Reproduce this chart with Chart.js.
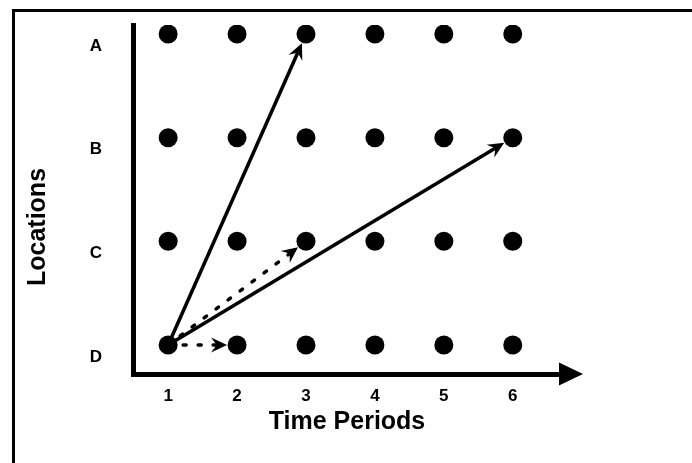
<!DOCTYPE html>
<html>
<head>
<meta charset="utf-8">
<script src="https://cdn.jsdelivr.net/npm/chart.js@4"></script>
<style>
  body { margin: 0; background: #fff; }
  #wrap { width: 692px; height: 463px; position: relative; }
</style>
</head>
<body>
<div id="wrap"><canvas id="paths"></canvas></div>
<script>
const times = [1, 2, 3, 4, 5, 6];
const locations = ['A', 'B', 'C', 'D'];
// moves: [period, location] -> [period, location]
const moveFrom = [[1, 'D'], [1, 'D'], [1, 'D'], [1, 'D']];
const moveTo = [[3, 'A'], [6, 'B'], [3, 'C'], [2, 'D']];
const moveDashed = [false, false, true, true];

const FONT = '"Liberation Sans", Arial, sans-serif';

// A on top, D at the bottom
function locValue(name) {
  return locations.length - 1 - locations.indexOf(name);
}

const dots = [];
times.forEach(t => locations.forEach(l => dots.push({ x: t, y: locValue(l) })));

function arrowHead(ctx, tx, ty, ang, len, half) {
  ctx.save();
  ctx.translate(tx, ty);
  ctx.rotate(ang);
  ctx.beginPath();
  ctx.moveTo(0, 0);
  ctx.lineTo(-len, -half);
  ctx.lineTo(-len * 0.65, 0);
  ctx.lineTo(-len, half);
  ctx.closePath();
  ctx.fill();
  ctx.restore();
}

const extras = {
  id: 'extras',
  beforeDraw(chart) {
    const ctx = chart.ctx;
    ctx.save();
    ctx.strokeStyle = '#000';
    ctx.lineWidth = 3;
    ctx.beginPath();
    ctx.moveTo(692, 10.5);
    ctx.lineTo(13.5, 10.5);
    ctx.lineTo(13.5, 463);
    ctx.stroke();
    ctx.restore();
  },
  afterDatasetsDraw(chart) {
    const ctx = chart.ctx;
    const xs = chart.scales.x, ys = chart.scales.y;
    const area = chart.chartArea;
    ctx.save();
    ctx.fillStyle = '#000';
    ctx.strokeStyle = '#000';

    // arrow on the time axis
    ctx.beginPath();
    ctx.moveTo(area.right - 2, area.bottom - 11.5);
    ctx.lineTo(area.right + 22, area.bottom);
    ctx.lineTo(area.right - 2, area.bottom + 11.5);
    ctx.closePath();
    ctx.fill();

    // moves
    for (let i = 0; i < moveFrom.length; i++) {
      const x1 = xs.getPixelForValue(moveFrom[i][0]);
      const y1 = ys.getPixelForValue(locValue(moveFrom[i][1]));
      const x2 = xs.getPixelForValue(moveTo[i][0]);
      const y2 = ys.getPixelForValue(locValue(moveTo[i][1]));
      const ang = Math.atan2(y2 - y1, x2 - x1);
      const dx = Math.cos(ang), dy = Math.sin(ang);
      const tx = x2 - 10 * dx, ty = y2 - 10 * dy;
      const len = 16, half = 7.5;
      ctx.lineWidth = 3.5;
      ctx.lineCap = moveDashed[i] ? 'round' : 'butt';
      ctx.setLineDash(moveDashed[i] ? [3, 12] : []);
      ctx.beginPath();
      ctx.moveTo(x1, y1);
      ctx.lineTo(tx - len * 0.6 * dx, ty - len * 0.6 * dy);
      ctx.stroke();
      ctx.setLineDash([]);
      arrowHead(ctx, tx, ty, ang, len, half);
    }

    // vertical axis title
    ctx.translate(38, 227);
    ctx.rotate(-Math.PI / 2);
    ctx.font = 'bold 25px ' + FONT;
    ctx.textAlign = 'center';
    ctx.textBaseline = 'middle';
    ctx.fillText('Locations', 0, 0);
    ctx.restore();
  }
};

new Chart(document.getElementById('paths'), {
  type: 'scatter',
  data: {
    datasets: [{
      label: 'Location in period',
      data: dots,
      pointRadius: 9.5,
      pointHoverRadius: 9.5,
      backgroundColor: '#000',
      borderWidth: 0
    }]
  },
  options: {
    responsive: true,
    maintainAspectRatio: false,
    animation: false,
    events: [],
    layout: { padding: { top: 25, right: 131, left: 0, bottom: 0 } },
    plugins: {
      legend: { display: false },
      tooltip: { enabled: false }
    },
    scales: {
      x: {
        type: 'linear',
        min: 0.49,
        max: 6.7,
        afterBuildTicks: s => { s.ticks = times.map(v => ({ value: v })); },
        afterFit: s => { s.height = 89; s.paddingLeft = 0; s.paddingRight = 0; },
        grid: { display: false, drawTicks: false },
        border: { display: true, color: '#000', width: 5 },
        ticks: {
          color: '#000',
          padding: 12,
          maxRotation: 0,
          font: { family: FONT, size: 17, weight: 'bold' }
        },
        title: {
          display: true,
          text: 'Time Periods',
          color: '#000',
          padding: { top: 0, bottom: 26 },
          font: { family: FONT, size: 25, weight: 'bold' }
        }
      },
      y: {
        type: 'linear',
        min: -0.28,
        max: 3.087,
        afterBuildTicks: s => { s.ticks = locations.map(l => ({ value: locValue(l) })); },
        afterFit: s => { s.width = 133; s.paddingTop = 0; s.paddingBottom = 0; },
        grid: { display: false, drawTicks: false },
        border: { display: true, color: '#000', width: 5 },
        ticks: {
          color: '#000',
          padding: 31,
          labelOffset: 12,
          callback: v => locations[locations.length - 1 - v],
          font: { family: FONT, size: 17, weight: 'bold' }
        }
      }
    }
  },
  plugins: [extras]
});
</script>
</body>
</html>
